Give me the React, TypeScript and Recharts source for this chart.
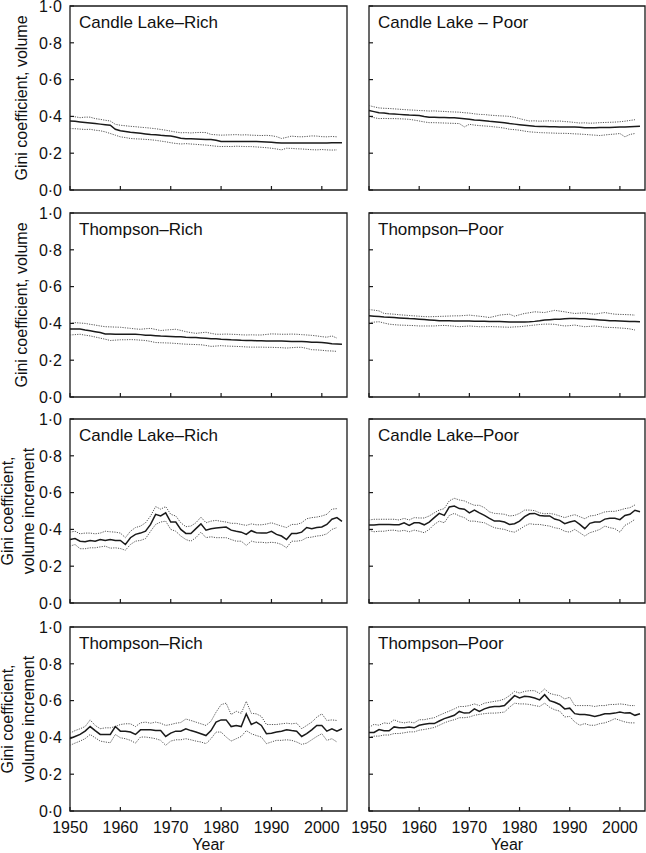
import { LineChart, Line, XAxis, YAxis, ReferenceArea } from "recharts";

const YEARS = Array.from({ length: 55 }, (_, i) => 1950 + i);
const X_TICKS = [1950, 1960, 1970, 1980, 1990, 2000];
const Y_TICKS = [0, 0.2, 0.4, 0.6, 0.8, 1.0];

// Gini coefficient, volume — Candle Lake–Rich
const clrVolMean = [
  0.375, 0.373, 0.37, 0.367, 0.364, 0.361, 0.358, 0.355, 0.352, 0.33,
  0.322, 0.318, 0.314, 0.311, 0.308, 0.305, 0.302, 0.3, 0.297, 0.295,
  0.293, 0.288, 0.281, 0.279, 0.278, 0.277, 0.276, 0.275, 0.275, 0.27,
  0.264, 0.264, 0.264, 0.264, 0.264, 0.264, 0.263, 0.263, 0.262, 0.261,
  0.259, 0.257, 0.255, 0.255, 0.255, 0.255, 0.255, 0.256, 0.256, 0.256,
  0.256, 0.256, 0.257, 0.257, 0.257,
];
const clrVolUpper = [
  0.4, 0.398, 0.393, 0.396, 0.396, 0.388, 0.384, 0.379, 0.375, 0.357,
  0.352, 0.349, 0.346, 0.344, 0.341, 0.339, 0.336, 0.333, 0.329, 0.325,
  0.32, 0.315, 0.311, 0.312, 0.31, 0.312, 0.313, 0.312, 0.302, 0.3,
  0.298, 0.299, 0.3, 0.301, 0.299, 0.3, 0.298, 0.297, 0.296, 0.297,
  0.295, 0.29, 0.28, 0.286, 0.293, 0.29, 0.289, 0.291, 0.294, 0.293,
  0.29, 0.289, 0.291, 0.289,
];
const clrVolLower = [
  0.334, 0.333, 0.331, 0.329, 0.33, 0.325, 0.322, 0.316, 0.307, 0.298,
  0.289, 0.285, 0.28, 0.278, 0.277, 0.275, 0.273, 0.27, 0.266, 0.262,
  0.257, 0.253, 0.25, 0.252, 0.25, 0.248, 0.246, 0.244, 0.241, 0.238,
  0.236, 0.237, 0.236, 0.238, 0.237, 0.236, 0.236, 0.234, 0.232, 0.23,
  0.227, 0.223, 0.218, 0.227, 0.226, 0.224, 0.223, 0.221, 0.219, 0.218,
  0.22, 0.218, 0.217, 0.218,
];

// Gini coefficient, volume — Candle Lake – Poor
const clpVolMean = [
  0.432, 0.426, 0.42, 0.418, 0.415, 0.413, 0.411, 0.409, 0.407, 0.406,
  0.405, 0.4, 0.396, 0.395, 0.394, 0.394, 0.393, 0.393, 0.39, 0.387,
  0.384, 0.381, 0.379, 0.376, 0.373, 0.371, 0.368, 0.365, 0.361, 0.358,
  0.355, 0.352, 0.349, 0.346, 0.345, 0.345, 0.344, 0.344, 0.343, 0.343,
  0.343, 0.343, 0.341, 0.338, 0.338, 0.338, 0.339, 0.339, 0.34, 0.341,
  0.342, 0.343, 0.344, 0.345, 0.346,
];
const clpVolUpper = [
  0.459, 0.452, 0.446, 0.444, 0.443, 0.441, 0.439, 0.437, 0.435, 0.434,
  0.432, 0.431, 0.429, 0.43, 0.428, 0.427, 0.425, 0.424, 0.423, 0.42,
  0.418, 0.414, 0.411, 0.41, 0.407, 0.405, 0.403, 0.402, 0.4, 0.395,
  0.388, 0.381, 0.375, 0.376, 0.374, 0.375, 0.376, 0.374, 0.375, 0.372,
  0.37, 0.367, 0.364, 0.365, 0.363, 0.364, 0.366, 0.367, 0.368, 0.369,
  0.371, 0.374, 0.378, 0.382,
];
const clpVolLower = [
  0.4, 0.393, 0.388, 0.389, 0.388, 0.388, 0.387, 0.386, 0.384, 0.38,
  0.375, 0.37, 0.366, 0.366, 0.365, 0.364, 0.363, 0.362, 0.361, 0.343,
  0.357, 0.353, 0.35, 0.348, 0.346, 0.343, 0.34, 0.336, 0.33, 0.328,
  0.325, 0.32, 0.316, 0.314, 0.312, 0.311, 0.31, 0.309, 0.308, 0.308,
  0.307, 0.305, 0.304, 0.302, 0.3, 0.298, 0.296, 0.299, 0.302, 0.304,
  0.307, 0.289, 0.302, 0.307,
];

// Gini coefficient, volume — Thompson–Rich
const trVolMean = [
  0.37, 0.37, 0.37, 0.364, 0.36, 0.355, 0.35, 0.343, 0.342, 0.341,
  0.341, 0.341, 0.341, 0.341, 0.339, 0.336, 0.335, 0.333, 0.331, 0.33,
  0.329, 0.328, 0.327, 0.325, 0.324, 0.323, 0.321, 0.319, 0.317, 0.316,
  0.314, 0.313, 0.311, 0.31, 0.308, 0.307, 0.307, 0.306, 0.306, 0.305,
  0.305, 0.304, 0.304, 0.303, 0.302, 0.302, 0.301, 0.3, 0.298, 0.297,
  0.296, 0.293, 0.289, 0.288, 0.287,
];
const trVolUpper = [
  0.4, 0.404, 0.402, 0.4, 0.395, 0.391, 0.386, 0.382, 0.381, 0.38,
  0.379, 0.376, 0.373, 0.37, 0.368, 0.371, 0.373, 0.367, 0.361, 0.364,
  0.366, 0.368, 0.362, 0.355, 0.35, 0.346, 0.349, 0.352, 0.346, 0.341,
  0.341, 0.342, 0.341, 0.34, 0.338, 0.337, 0.338, 0.337, 0.337, 0.34,
  0.343, 0.342, 0.341, 0.341, 0.342, 0.341, 0.339, 0.337, 0.335, 0.332,
  0.328, 0.325, 0.332, 0.32,
];
const trVolLower = [
  0.337, 0.339, 0.341, 0.336, 0.332, 0.326, 0.32, 0.314, 0.307, 0.309,
  0.311, 0.311, 0.312, 0.311, 0.309, 0.307, 0.302, 0.296, 0.295, 0.294,
  0.293, 0.291, 0.289, 0.287, 0.286, 0.285, 0.284, 0.28, 0.275, 0.277,
  0.279, 0.277, 0.276, 0.275, 0.274, 0.272, 0.271, 0.271, 0.271, 0.27,
  0.27, 0.269, 0.268, 0.266, 0.268, 0.27, 0.27, 0.264, 0.257, 0.256,
  0.254, 0.251, 0.25, 0.248,
];

// Gini coefficient, volume — Thompson–Poor
const tpVolMean = [
  0.441, 0.439, 0.437, 0.435, 0.434, 0.432, 0.43, 0.428, 0.426, 0.425,
  0.423, 0.421, 0.419, 0.417, 0.415, 0.414, 0.414, 0.413, 0.413, 0.413,
  0.413, 0.412, 0.412, 0.412, 0.411, 0.411, 0.41, 0.409, 0.408, 0.408,
  0.407, 0.408, 0.409, 0.411, 0.414, 0.418, 0.42, 0.422, 0.423, 0.425,
  0.427, 0.426, 0.425, 0.425, 0.423, 0.421, 0.419, 0.417, 0.414, 0.414,
  0.413, 0.412, 0.411, 0.41, 0.409,
];
const tpVolUpper = [
  0.475, 0.472, 0.468, 0.454, 0.452, 0.45, 0.447, 0.445, 0.443, 0.441,
  0.439, 0.437, 0.436, 0.437, 0.438, 0.439, 0.44, 0.441, 0.441, 0.443,
  0.445, 0.442, 0.439, 0.436, 0.432, 0.438, 0.445, 0.448, 0.45, 0.439,
  0.447, 0.454, 0.458, 0.463, 0.461, 0.459, 0.465, 0.471, 0.467, 0.463,
  0.458, 0.454, 0.456, 0.457, 0.453, 0.45, 0.455, 0.459, 0.454, 0.45,
  0.449, 0.448, 0.447, 0.445,
];
const tpVolLower = [
  0.404, 0.407, 0.409, 0.402, 0.396, 0.393, 0.391, 0.39, 0.389, 0.388,
  0.386, 0.386, 0.386, 0.386, 0.388, 0.389, 0.387, 0.385, 0.382, 0.384,
  0.386, 0.384, 0.382, 0.382, 0.383, 0.382, 0.381, 0.38, 0.379, 0.381,
  0.382, 0.385, 0.388, 0.391, 0.394, 0.396, 0.396, 0.395, 0.39, 0.386,
  0.388, 0.391, 0.386, 0.382, 0.384, 0.386, 0.383, 0.379, 0.378, 0.377,
  0.375, 0.373, 0.37, 0.364,
];

// Gini coefficient, volume increment — Candle Lake–Rich
const clrIncMean = [
  0.345, 0.35, 0.336, 0.333, 0.34, 0.336, 0.345, 0.34, 0.345, 0.34,
  0.34, 0.318, 0.355, 0.373, 0.38, 0.39, 0.427, 0.482, 0.473, 0.49,
  0.44, 0.44, 0.4, 0.378, 0.378, 0.404, 0.43, 0.396, 0.404, 0.407,
  0.41, 0.413, 0.396, 0.39, 0.385, 0.373, 0.393, 0.382, 0.38, 0.38,
  0.39, 0.373, 0.364, 0.345, 0.378, 0.378, 0.385, 0.41, 0.404, 0.41,
  0.413, 0.427, 0.455, 0.464, 0.444,
];
const clrIncUpper = [
  0.385, 0.39, 0.376, 0.38, 0.38, 0.376, 0.38, 0.39, 0.387, 0.385,
  0.38, 0.355, 0.39, 0.41, 0.418, 0.436, 0.473, 0.524, 0.51, 0.524,
  0.482, 0.473, 0.436, 0.415, 0.418, 0.436, 0.467, 0.436, 0.445, 0.449,
  0.444, 0.44, 0.433, 0.433, 0.427, 0.422, 0.43, 0.425, 0.425, 0.429,
  0.436, 0.427, 0.418, 0.41, 0.427, 0.427, 0.436, 0.458, 0.464, 0.467,
  0.473, 0.482, 0.51, 0.513,
];
const clrIncLower = [
  0.309, 0.318, 0.295, 0.295, 0.3, 0.3, 0.305, 0.309, 0.298, 0.3,
  0.296, 0.287, 0.318, 0.336, 0.34, 0.35, 0.39, 0.427, 0.44, 0.445,
  0.4, 0.39, 0.364, 0.345, 0.336, 0.355, 0.385, 0.355, 0.36, 0.355,
  0.355, 0.355, 0.345, 0.336, 0.336, 0.313, 0.336, 0.33, 0.33, 0.327,
  0.33, 0.327, 0.318, 0.3, 0.336, 0.336, 0.34, 0.355, 0.358, 0.364,
  0.367, 0.376, 0.4, 0.41,
];

// Gini coefficient, volume increment — Candle Lake–Poor
const clpIncMean = [
  0.424, 0.424, 0.427, 0.427, 0.427, 0.425, 0.425, 0.436, 0.422, 0.436,
  0.436, 0.425, 0.44, 0.464, 0.487, 0.476, 0.522, 0.527, 0.513, 0.51,
  0.49, 0.505, 0.49, 0.476, 0.46, 0.445, 0.445, 0.44, 0.427, 0.431,
  0.445, 0.469, 0.485, 0.487, 0.476, 0.473, 0.473, 0.456, 0.449, 0.431,
  0.44, 0.447, 0.427, 0.404, 0.433, 0.44, 0.44, 0.456, 0.46, 0.46,
  0.453, 0.476, 0.482, 0.504, 0.496,
];
const clpIncUpper = [
  0.451, 0.455, 0.455, 0.455, 0.455, 0.455, 0.451, 0.46, 0.451, 0.464,
  0.462, 0.462, 0.473, 0.49, 0.505, 0.513, 0.555, 0.569, 0.56, 0.555,
  0.542, 0.531, 0.531, 0.518, 0.495, 0.487, 0.485, 0.482, 0.473, 0.476,
  0.487, 0.505, 0.505, 0.502, 0.49, 0.485, 0.487, 0.482, 0.473, 0.464,
  0.473, 0.48, 0.469, 0.458, 0.473, 0.476, 0.485, 0.495, 0.498, 0.498,
  0.505, 0.513, 0.518, 0.533,
];
const clpIncLower = [
  0.395, 0.387, 0.39, 0.39, 0.395, 0.396, 0.39, 0.395, 0.387, 0.396,
  0.39, 0.382, 0.4, 0.427, 0.445, 0.436, 0.476, 0.487, 0.473, 0.464,
  0.445, 0.445, 0.44, 0.436, 0.422, 0.409, 0.404, 0.4, 0.39, 0.385,
  0.4, 0.418, 0.431, 0.427, 0.427, 0.422, 0.418, 0.409, 0.404, 0.39,
  0.385, 0.4, 0.382, 0.364, 0.382, 0.39, 0.4, 0.418, 0.409, 0.404,
  0.385, 0.422, 0.436, 0.455,
];

// Gini coefficient, volume increment — Thompson–Rich
const trIncMean = [
  0.393, 0.405, 0.416, 0.434, 0.459, 0.437, 0.416, 0.416, 0.416, 0.459,
  0.434, 0.434, 0.429, 0.416, 0.441, 0.441, 0.441, 0.437, 0.437, 0.405,
  0.423, 0.434, 0.434, 0.447, 0.437, 0.429, 0.42, 0.41, 0.437, 0.483,
  0.495, 0.495, 0.459, 0.465, 0.459, 0.528, 0.47, 0.483, 0.465, 0.42,
  0.423, 0.429, 0.434, 0.441, 0.437, 0.434, 0.405, 0.42, 0.441, 0.465,
  0.465, 0.434, 0.447, 0.434, 0.447,
];
const trIncUpper = [
  0.423, 0.437, 0.447, 0.459, 0.495, 0.465, 0.447, 0.452, 0.452, 0.459,
  0.47, 0.474, 0.474, 0.459, 0.479, 0.483, 0.477, 0.483, 0.477, 0.465,
  0.47, 0.477, 0.481, 0.5, 0.492, 0.483, 0.474, 0.465, 0.488, 0.537,
  0.578, 0.586, 0.524, 0.542, 0.531, 0.596, 0.531, 0.528, 0.514, 0.47,
  0.47, 0.47, 0.474, 0.477, 0.474, 0.477, 0.447, 0.465, 0.483, 0.51,
  0.528, 0.492, 0.495, 0.492,
];
const trIncLower = [
  0.357, 0.369, 0.38, 0.393, 0.416, 0.398, 0.38, 0.375, 0.371, 0.416,
  0.398, 0.393, 0.384, 0.369, 0.402, 0.402, 0.398, 0.393, 0.384, 0.357,
  0.38, 0.387, 0.387, 0.393, 0.387, 0.38, 0.375, 0.366, 0.393, 0.429,
  0.429, 0.402, 0.38, 0.393, 0.405, 0.437, 0.42, 0.41, 0.402, 0.366,
  0.375, 0.384, 0.384, 0.387, 0.384, 0.375, 0.362, 0.369, 0.387, 0.405,
  0.42, 0.384, 0.393, 0.375,
];

// Gini coefficient, volume increment — Thompson–Poor
const tpIncMean = [
  0.427, 0.427, 0.443, 0.436, 0.436, 0.457, 0.452, 0.452, 0.457, 0.452,
  0.466, 0.471, 0.475, 0.475, 0.489, 0.502, 0.511, 0.52, 0.541, 0.532,
  0.534, 0.555, 0.541, 0.555, 0.564, 0.568, 0.568, 0.573, 0.6, 0.627,
  0.614, 0.623, 0.621, 0.614, 0.604, 0.632, 0.6, 0.591, 0.579, 0.555,
  0.559, 0.529, 0.525, 0.525, 0.52, 0.514, 0.52, 0.529, 0.529, 0.532,
  0.538, 0.532, 0.534, 0.52, 0.529,
];
const tpIncUpper = [
  0.454, 0.471, 0.466, 0.479, 0.475, 0.496, 0.484, 0.479, 0.484, 0.479,
  0.496, 0.496, 0.502, 0.507, 0.52, 0.532, 0.543, 0.555, 0.568, 0.568,
  0.573, 0.582, 0.573, 0.586, 0.591, 0.596, 0.6, 0.609, 0.627, 0.65,
  0.641, 0.65, 0.654, 0.654, 0.639, 0.663, 0.639, 0.632, 0.627, 0.609,
  0.618, 0.573, 0.573, 0.573, 0.573, 0.568, 0.573, 0.573, 0.579, 0.579,
  0.582, 0.579, 0.573, 0.573,
];
const tpIncLower = [
  0.4, 0.407, 0.407, 0.413, 0.413, 0.421, 0.421, 0.425, 0.43, 0.43,
  0.439, 0.443, 0.448, 0.454, 0.466, 0.479, 0.489, 0.496, 0.507, 0.507,
  0.511, 0.52, 0.525, 0.529, 0.532, 0.532, 0.534, 0.538, 0.564, 0.586,
  0.582, 0.582, 0.579, 0.573, 0.568, 0.586, 0.564, 0.55, 0.543, 0.511,
  0.514, 0.484, 0.466, 0.475, 0.466, 0.466, 0.475, 0.479, 0.489, 0.502,
  0.493, 0.484, 0.479, 0.479,
];

const FONT = '"Liberation Sans", Arial, Helvetica, sans-serif';
const INK = "#1a1a1a";
const PLOT_H = 184;
const PAD_TOP = 10;
const ROW_TOPS = [6, 213, 419, 627];

const fmt = (v: number) => v.toFixed(1).replace(".", "\u00b7");

const buildRows = (mean: number[], upper: number[], lower: number[]) =>
  YEARS.map((year, i) => ({
    year,
    mean: mean[i],
    upper: upper[i] ?? null,
    lower: lower[i] ?? null,
  }));

const YTick = (props: any) => {
  const { y, payload, plotLeft, showLabel } = props;
  return (
    <g>
      <line x1={plotLeft} x2={plotLeft + 4} y1={y} y2={y} stroke={INK} strokeWidth={1.2} />
      {showLabel && (
        <text x={plotLeft - 8} y={y} dy="0.36em" textAnchor="end" fontFamily={FONT} fontSize={16} fill="#111">
          {fmt(payload.value)}
        </text>
      )}
    </g>
  );
};

const XTick = (props: any) => {
  const { x, payload, plotBottom, showLabel } = props;
  return (
    <g>
      <line x1={x} x2={x} y1={plotBottom} y2={plotBottom - 4} stroke={INK} strokeWidth={1.2} />
      {showLabel && (
        <text x={x} y={plotBottom + 22} textAnchor="middle" fontFamily={FONT} fontSize={16} fill="#111">
          {payload.value}
        </text>
      )}
    </g>
  );
};

// titles, y-axis captions and the "Year" caption, drawn as the y-axis label
const PanelText = (props: any) => {
  const { title, plotLeft, plotW, ylabel, isBottom } = props;
  const midY = PAD_TOP + PLOT_H / 2;
  return (
    <g fontFamily={FONT} fill="#111">
      <text x={plotLeft + 9} y={PAD_TOP + 22} fontSize={17}>
        {title}
      </text>
      {ylabel && ylabel.length === 1 && (
        <text x={26.5} y={midY} fontSize={16} textAnchor="middle" transform={`rotate(-90 26.5 ${midY})`}>
          {ylabel[0]}
        </text>
      )}
      {ylabel && ylabel.length === 2 && (
        <>
          <text x={13} y={midY} fontSize={16} textAnchor="middle" transform={`rotate(-90 13 ${midY})`}>
            {ylabel[0]}
          </text>
          <text x={33.5} y={midY} fontSize={16} textAnchor="middle" transform={`rotate(-90 33.5 ${midY})`}>
            {ylabel[1]}
          </text>
        </>
      )}
      {isBottom && (
        <text x={plotLeft + plotW / 2} y={PAD_TOP + PLOT_H + 39} fontSize={16} textAnchor="middle">
          Year
        </text>
      )}
    </g>
  );
};

interface PanelProps {
  title: string;
  mean: number[];
  upper: number[];
  lower: number[];
  row: number;
  col: number;
  ylabel?: string[];
}

const Panel = ({ title, mean, upper, lower, row, col, ylabel }: PanelProps) => {
  const isLeft = col === 0;
  const isBottom = row === 3;
  const left = isLeft ? 0 : 350;
  const width = isLeft ? 350 : 296;
  const plotLeft = isLeft ? 70 : 19;
  const rightMargin = isLeft ? 3 : 1;
  const plotW = width - plotLeft - rightMargin;
  const xAxisH = isBottom ? 48 : 10;
  const height = PAD_TOP + PLOT_H + xAxisH;
  const plotBottom = PAD_TOP + PLOT_H;
  const data = buildRows(mean, upper, lower);

  return (
    <div style={{ position: "absolute", left, top: ROW_TOPS[row] - PAD_TOP }}>
      <LineChart width={width} height={height} data={data} margin={{ top: PAD_TOP, right: rightMargin, bottom: 0, left: 0 }}>
        <XAxis
          dataKey="year"
          type="number"
          domain={[1950, 2005]}
          ticks={X_TICKS}
          interval={0}
          height={xAxisH}
          axisLine={false}
          tickLine={false}
          tick={<XTick plotBottom={plotBottom} showLabel={isBottom} />}
        />
        <YAxis
          type="number"
          domain={[0, 1]}
          ticks={Y_TICKS}
          interval={0}
          width={plotLeft}
          axisLine={false}
          tickLine={false}
          tick={<YTick plotLeft={plotLeft} showLabel={isLeft} />}
          label={<PanelText title={title} plotLeft={plotLeft} plotW={plotW} ylabel={ylabel} isBottom={isBottom} />}
        />
        <ReferenceArea x1={1950} x2={2005} y1={0} y2={1} fill="none" stroke={INK} strokeWidth={1.3} />
        <Line dataKey="upper" stroke="#555" strokeWidth={1} strokeDasharray="1.2 1.2" dot={false} isAnimationActive={false} />
        <Line dataKey="lower" stroke="#555" strokeWidth={1} strokeDasharray="1.2 1.2" dot={false} isAnimationActive={false} />
        <Line dataKey="mean" stroke={INK} strokeWidth={1.5} dot={false} isAnimationActive={false} />
      </LineChart>
    </div>
  );
};

const VOL_LABEL = ["Gini coefficient, volume"];
const INC_LABEL = ["Gini coefficient,", "volume increment"];

export default function App() {
  return (
    <div style={{ position: "absolute", left: 0, top: 0, width: 646, height: 853, background: "#fff", overflow: "hidden" }}>
      <Panel title="Candle Lake–Rich" mean={clrVolMean} upper={clrVolUpper} lower={clrVolLower} row={0} col={0} ylabel={VOL_LABEL} />
      <Panel title="Candle Lake – Poor" mean={clpVolMean} upper={clpVolUpper} lower={clpVolLower} row={0} col={1} />
      <Panel title="Thompson–Rich" mean={trVolMean} upper={trVolUpper} lower={trVolLower} row={1} col={0} ylabel={VOL_LABEL} />
      <Panel title="Thompson–Poor" mean={tpVolMean} upper={tpVolUpper} lower={tpVolLower} row={1} col={1} />
      <Panel title="Candle Lake–Rich" mean={clrIncMean} upper={clrIncUpper} lower={clrIncLower} row={2} col={0} ylabel={INC_LABEL} />
      <Panel title="Candle Lake–Poor" mean={clpIncMean} upper={clpIncUpper} lower={clpIncLower} row={2} col={1} />
      <Panel title="Thompson–Rich" mean={trIncMean} upper={trIncUpper} lower={trIncLower} row={3} col={0} ylabel={INC_LABEL} />
      <Panel title="Thompson–Poor" mean={tpIncMean} upper={tpIncUpper} lower={tpIncLower} row={3} col={1} />
    </div>
  );
}
